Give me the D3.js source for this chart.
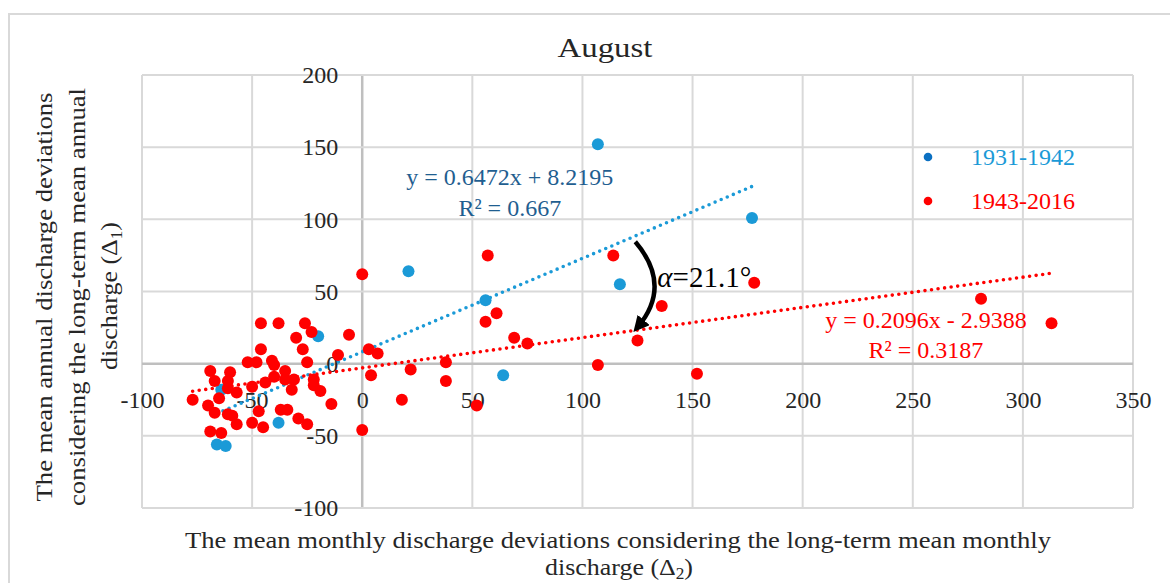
<!DOCTYPE html>
<html lang="en">
<head>
<meta charset="UTF-8">
<title>August - discharge deviations</title>
<style>
body { margin: 0; background: #fff; }
svg text { font-family: "Liberation Serif", serif; fill: #262626; }
</style>
</head>
<body>
<svg></svg>
<script src="https://d3js.org/d3.v7.min.js"></script>
<script>

var seriesNames = ["1931-1942", "1943-2016"];

// 1931-1942
var blueX = [107, 177, 21, 56, 117, 64, -20, -38, -66, -62, -64];
var blueY = [152, 101, 64, 44, 55, -8, 19, -41, -56, -57, -18];

// 1943-2016
var redX = [0, 57, 114, 178, 281, 313, 136, 61, 56, 69, 75, 125, 107, 152, 38, 38, 22, 18, 52, 4, 3, 7, 0, -6, -11, -14,
  -46, -38, -26, -23, -30, -46, -27, -52, -48, -41, -40, -25, -69, -60, -35, -67, -61, -40, -44, -50,
  -35, -31, -22, -22, -19, -32, -61, -57, -65, -77, -70, -67, -61, -59, -47, -37, -34, -29, -25, -57, -50, -45, -69, -64];
var redY = [62, 75, 75, 56, 45, 28, 40, 35, 29, 18, 14, 16, -1, -7, 1, -12, -4, -25, -29, -8, 10, 7, -46, 20, 6, -28,
  28, 28, 28, 22, 18, 10, 10, 1, 1, 2, -1, 1, -5, -6, -5, -12, -12, -9, -13, -16,
  -11, -11, -11, -15, -19, -18, -17, -20, -24, -25, -29, -34, -35, -36, -33, -32, -32, -38, -42, -42, -41, -44, -47, -48];

var trendSlope = [0.6472, 0.2096];
var trendIntercept = [8.2195, -2.9388];
var trendLabel = ["y = 0.6472x + 8.2195", "y = 0.2096x - 2.9388"];
var r2Label = ["R² = 0.667", "R² = 0.3187"];
var angleLabel = "=21.1°";

var xTicks = [-100, -50, 0, 50, 100, 150, 200, 250, 300, 350];
var yTicks = [-100, -50, 0, 50, 100, 150, 200];

var pointColor = ["#1b9ad7", "#ff0000"];
var legendColor = ["#0b70c2", "#ff0000"];
var labelColor = ["#1f5e90", "#ff0000"];

var svgWidth = 1170, svgHeight = 583;
var plot = { left: 142, right: 1133, top: 75, bottom: 508 };

var svg = d3.select("svg")
  .attr("width", svgWidth)
  .attr("height", svgHeight);

svg.append("rect")
  .attr("x", 9).attr("y", 14)
  .attr("width", 1180).attr("height", 600)
  .attr("fill", "none")
  .attr("stroke", "#d9d9d9")
  .attr("stroke-width", 2);

var x = d3.scaleLinear().domain([-100, 350]).range([plot.left, plot.right]);
var y = d3.scaleLinear().domain([-100, 200]).range([plot.bottom, plot.top]);

// grid
svg.append("g").selectAll("line").data(xTicks).enter().append("line")
  .attr("x1", function(d) { return x(d); }).attr("x2", function(d) { return x(d); })
  .attr("y1", plot.top).attr("y2", plot.bottom)
  .attr("stroke", function(d) { return d === 0 ? "#bfbfbf" : "#d9d9d9"; })
  .attr("stroke-width", function(d) { return d === 0 ? 2.5 : 2; });

svg.append("g").selectAll("line").data(yTicks).enter().append("line")
  .attr("y1", function(d) { return y(d); }).attr("y2", function(d) { return y(d); })
  .attr("x1", plot.left).attr("x2", plot.right)
  .attr("stroke", function(d) { return d === 0 ? "#bfbfbf" : "#d9d9d9"; })
  .attr("stroke-width", function(d) { return d === 0 ? 2.5 : 2; });

// axes labels (lines hidden, grid does the job)
var fmt = function(d) { return String(d); };
var xAxis = svg.append("g")
  .attr("transform", "translate(0," + y(0) + ")")
  .call(d3.axisBottom(x).tickValues(xTicks).tickFormat(fmt).tickSize(0).tickPadding(27));
var yAxis = svg.append("g")
  .attr("transform", "translate(" + x(0) + ",0)")
  .call(d3.axisLeft(y).tickValues(yTicks).tickFormat(fmt).tickSize(0).tickPadding(24));
[xAxis, yAxis].forEach(function(a) {
  a.select(".domain").remove();
  a.selectAll("text")
    .style("font-family", "Liberation Serif, serif")
    .style("font-size", "24px")
    .attr("fill", "#262626");
});

// title
svg.append("text")
  .attr("x", 605).attr("y", 57)
  .attr("text-anchor", "middle")
  .attr("textLength", 95).attr("lengthAdjust", "spacingAndGlyphs")
  .style("font-size", "28px")
  .text("August");

// x axis title
svg.append("text")
  .attr("x", 618).attr("y", 548)
  .attr("text-anchor", "middle")
  .attr("textLength", 866).attr("lengthAdjust", "spacingAndGlyphs")
  .style("font-size", "24px")
  .text("The mean monthly discharge deviations considering the long-term mean monthly");
var xt2 = svg.append("text")
  .attr("x", 619).attr("y", 575)
  .attr("text-anchor", "middle")
  .attr("textLength", 148).attr("lengthAdjust", "spacingAndGlyphs")
  .style("font-size", "24px");
xt2.append("tspan").text("discharge (Δ");
xt2.append("tspan").attr("dy", 4).style("font-size", "16px").text("2");
xt2.append("tspan").attr("dy", -4).text(")");

// y axis title
var yLines = ["The mean annual discharge deviations", "considering the long-term mean annual"];
var yLineX = [52, 85];
var yLineLen = [409, 418];
yLines.forEach(function(t, i) {
  svg.append("text")
    .attr("transform", "translate(" + yLineX[i] + ",297) rotate(-90)")
    .attr("text-anchor", "middle")
    .attr("textLength", yLineLen[i]).attr("lengthAdjust", "spacingAndGlyphs")
    .style("font-size", "24px")
    .text(t);
});
var yt3 = svg.append("text")
  .attr("transform", "translate(117,296) rotate(-90)")
  .attr("text-anchor", "middle")
  .attr("textLength", 148).attr("lengthAdjust", "spacingAndGlyphs")
  .style("font-size", "24px");
yt3.append("tspan").text("discharge (Δ");
yt3.append("tspan").attr("dy", 5).style("font-size", "16px").text("1");
yt3.append("tspan").attr("dy", -5).text(")");

// trend lines
var seriesX = [blueX, redX];
var seriesY = [blueY, redY];

var line = d3.line()
  .x(function(d) { return x(d[0]); })
  .y(function(d) { return y(d[1]); });

seriesX.forEach(function(xs, i) {
  var ends = d3.extent(xs).map(function(v) { return [v, trendSlope[i] * v + trendIntercept[i]]; });
  svg.append("path")
    .datum(ends)
    .attr("fill", "none")
    .attr("stroke", pointColor[i])
    .attr("stroke-width", 3.6)
    .attr("stroke-linecap", "round")
    .attr("stroke-dasharray", "0 6.6")
    .attr("d", line);
});

// points, red on top
seriesX.forEach(function(xs, i) {
  svg.append("g").selectAll("circle")
    .data(xs.map(function(v, k) { return [v, seriesY[i][k]]; }))
    .enter().append("circle")
    .attr("cx", function(d) { return x(d[0]); })
    .attr("cy", function(d) { return y(d[1]); })
    .attr("r", 6)
    .attr("fill", pointColor[i]);
});

// equations
var eqPos = [[67, 129, 108], [256, 30, 9.5]];
eqPos.forEach(function(p, i) {
  svg.append("text")
    .attr("x", x(p[0])).attr("y", y(p[1]) + 8)
    .attr("text-anchor", "middle")
    .style("fill", labelColor[i])
    .style("font-size", "24px")
    .text(trendLabel[i]);
  svg.append("text")
    .attr("x", x(p[0])).attr("y", y(p[2]) + 8)
    .attr("text-anchor", "middle")
    .style("fill", labelColor[i])
    .style("font-size", "24px")
    .text(r2Label[i]);
});

// legend
seriesNames.forEach(function(name, i) {
  var ly = 157 + i * 44;
  svg.append("circle")
    .attr("cx", 928).attr("cy", ly).attr("r", 4.3)
    .attr("fill", legendColor[i]);
  svg.append("text")
    .attr("x", 971).attr("y", ly + 8)
    .style("fill", pointColor[i])
    .style("font-size", "24px")
    .text(name);
});

// angle arrow between the two trend lines
svg.append("defs").append("marker")
  .attr("id", "head")
  .attr("viewBox", "0 0 10 10")
  .attr("refX", 6).attr("refY", 5)
  .attr("markerWidth", 3.6).attr("markerHeight", 3.6)
  .attr("orient", "auto")
  .append("path")
  .attr("d", "M0,0 L10,5 L0,10 z")
  .attr("fill", "#000");

var a0 = [124, trendSlope[0] * 124 + trendIntercept[0] - 4];
var a1 = [125, trendSlope[1] * 125 + trendIntercept[1] + 2];
var ac = [141, 54];
svg.append("path")
  .attr("d", "M" + x(a0[0]) + "," + y(a0[1]) + " Q" + x(ac[0]) + "," + y(ac[1]) + " " + x(a1[0]) + "," + y(a1[1]))
  .attr("fill", "none")
  .attr("stroke", "#000")
  .attr("stroke-width", 4.4)
  .attr("marker-end", "url(#head)");

var at = svg.append("text")
  .attr("x", x(134)).attr("y", y(53))
  .style("fill", "#000")
  .style("font-size", "29px");
at.append("tspan").style("font-style", "italic").text("α");
at.append("tspan").text(angleLabel);

</script>
</body>
</html>
